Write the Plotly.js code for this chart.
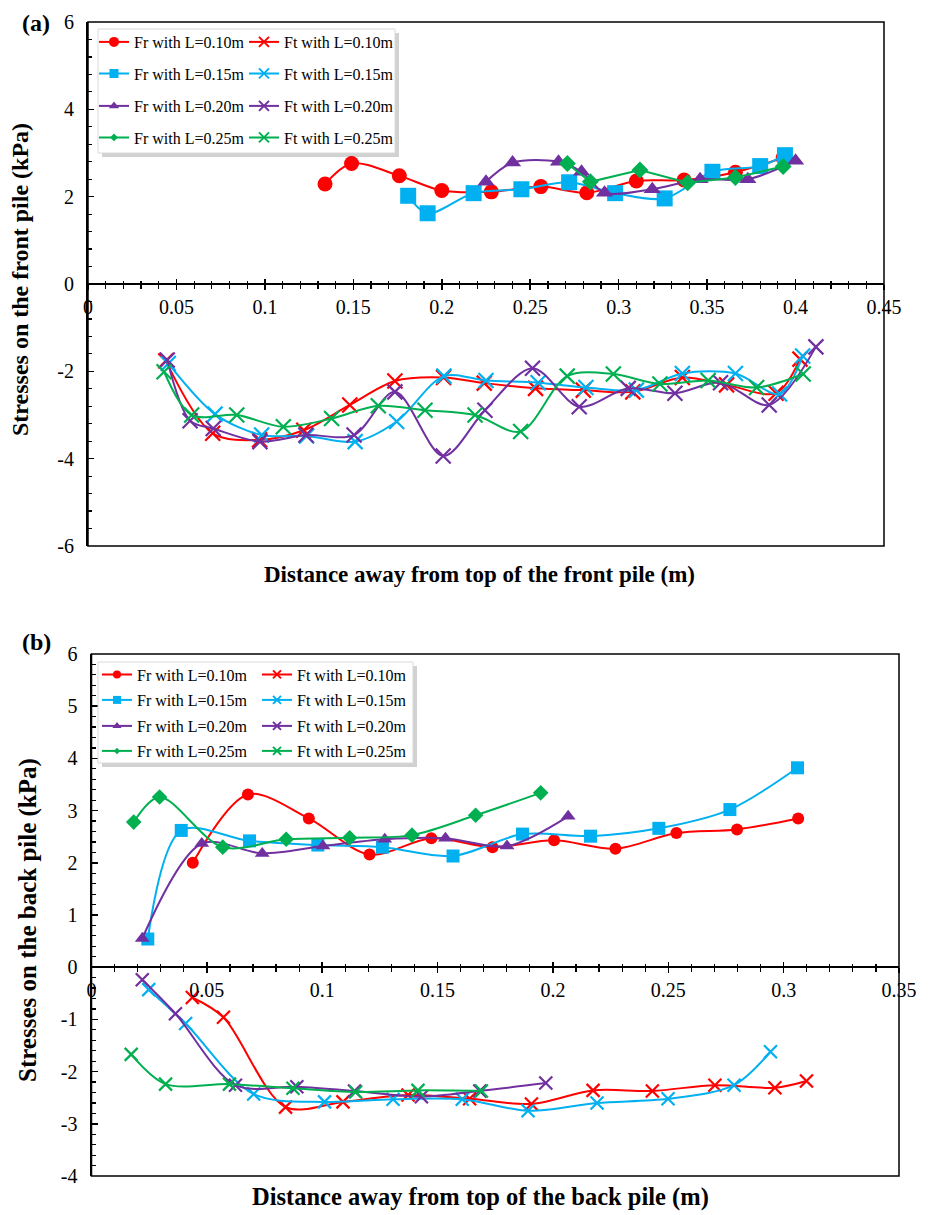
<!DOCTYPE html>
<html><head><meta charset="utf-8">
<script src="https://cdn.plot.ly/plotly-3.0.1.min.js"></script>
<style>html,body{margin:0;padding:0;background:#fff}#chart{width:932px;height:1215px}</style>
</head><body><div id="chart"></div>
<script>
// ---------- DATA ----------
const lengths = ['0.10m', '0.15m', '0.20m', '0.25m'];
const xTickValsA = [0, 0.05, 0.1, 0.15, 0.2, 0.25, 0.3, 0.35, 0.4, 0.45];
const xTickTextA = ['0', '0.05', '0.1', '0.15', '0.2', '0.25', '0.3', '0.35', '0.4', '0.45'];
const yTickValsA = [-6, -4, -2, 0, 2, 4, 6];
const yTickTextA = ['-6', '-4', '-2', '0', '2', '4', '6'];
const xTickValsB = [0, 0.05, 0.1, 0.15, 0.2, 0.25, 0.3, 0.35];
const xTickTextB = ['0', '0.05', '0.1', '0.15', '0.2', '0.25', '0.3', '0.35'];
const yTickValsB = [-4, -3, -2, -1, 0, 1, 2, 3, 4, 5, 6];
const yTickTextB = ['-4', '-3', '-2', '-1', '0', '1', '2', '3', '4', '5', '6'];

// (a) front pile
const aFr10x = [0.134, 0.149, 0.176, 0.200, 0.228, 0.256, 0.282, 0.310, 0.337, 0.366, 0.393];
const aFr10y = [2.29, 2.76, 2.48, 2.14, 2.11, 2.23, 2.09, 2.36, 2.38, 2.56, 2.89];
const aFr15x = [0.181, 0.192, 0.218, 0.245, 0.272, 0.298, 0.326, 0.353, 0.380, 0.394];
const aFr15y = [2.02, 1.62, 2.08, 2.17, 2.33, 2.08, 1.96, 2.57, 2.70, 2.95];
const aFr20x = [0.225, 0.240, 0.266, 0.279, 0.292, 0.319, 0.346, 0.373, 0.400];
const aFr20y = [2.34, 2.78, 2.80, 2.57, 2.09, 2.17, 2.40, 2.40, 2.82];
const aFr25x = [0.271, 0.284, 0.312, 0.339, 0.366, 0.393];
const aFr25y = [2.76, 2.34, 2.61, 2.32, 2.44, 2.69];
const aFt10x = [0.044, 0.0705, 0.097, 0.122, 0.148, 0.1735, 0.201, 0.224, 0.253, 0.280, 0.308, 0.336, 0.361, 0.389, 0.4025];
const aFt10y = [-1.76, -3.42, -3.57, -3.35, -2.77, -2.22, -2.14, -2.27, -2.39, -2.43, -2.47, -2.14, -2.31, -2.50, -1.72];
const aFt15x = [0.0454, 0.0718, 0.0982, 0.1236, 0.151, 0.1745, 0.2012, 0.225, 0.2545, 0.2815, 0.310, 0.336, 0.366, 0.391, 0.404];
const aFt15y = [-1.82, -2.98, -3.46, -3.48, -3.61, -3.15, -2.11, -2.21, -2.26, -2.37, -2.43, -2.05, -2.05, -2.52, -1.65];
const aFt20x = [0.0448, 0.0577, 0.0708, 0.0972, 0.1232, 0.1504, 0.1735, 0.2008, 0.2244, 0.2513, 0.2777, 0.3054, 0.3318, 0.3576, 0.3851, 0.4115];
const aFt20y = [-1.74, -3.13, -3.31, -3.61, -3.46, -3.46, -2.47, -3.94, -2.89, -1.93, -2.81, -2.39, -2.50, -2.26, -2.77, -1.44];
const aFt25x = [0.043, 0.0586, 0.0841, 0.1104, 0.1377, 0.1641, 0.1905, 0.2188, 0.2446, 0.2709, 0.297, 0.3233, 0.3506, 0.378, 0.4043];
const aFt25y = [-2.01, -3.00, -3.00, -3.27, -3.08, -2.79, -2.89, -3.00, -3.38, -2.11, -2.06, -2.29, -2.21, -2.37, -2.06];

// (b) back pile
const bFr10x = [0.0439, 0.0678, 0.0942, 0.1205, 0.1473, 0.1738, 0.2005, 0.2271, 0.2535, 0.2798, 0.3063];
const bFr10y = [2.00, 3.31, 2.85, 2.16, 2.47, 2.30, 2.43, 2.27, 2.57, 2.64, 2.85];
const bFr15x = [0.0244, 0.0389, 0.0685, 0.0981, 0.1261, 0.1567, 0.1868, 0.2163, 0.2459, 0.2767, 0.306];
const bFr15y = [0.54, 2.62, 2.42, 2.34, 2.30, 2.13, 2.55, 2.51, 2.66, 3.02, 3.82];
const bFr20x = [0.022, 0.0478, 0.074, 0.1003, 0.1271, 0.1534, 0.1801, 0.2066];
const bFr20y = [0.55, 2.37, 2.18, 2.32, 2.45, 2.47, 2.32, 2.89];
const bFr25x = [0.0183, 0.0295, 0.0569, 0.0844, 0.1119, 0.1389, 0.1665, 0.1947];
const bFr25y = [2.78, 3.26, 2.30, 2.45, 2.48, 2.53, 2.91, 3.34];
const bFt10x = [0.0437, 0.0572, 0.0841, 0.109, 0.1372, 0.1639, 0.1907, 0.2174, 0.2431, 0.2702, 0.2962, 0.3099];
const bFt10y = [-0.58, -0.96, -2.68, -2.58, -2.45, -2.52, -2.62, -2.36, -2.37, -2.26, -2.31, -2.18];
const bFt15x = [0.0248, 0.0408, 0.0703, 0.101, 0.1307, 0.1607, 0.1892, 0.2191, 0.2499, 0.2785, 0.2943];
const bFt15y = [-0.43, -1.08, -2.43, -2.58, -2.53, -2.53, -2.75, -2.60, -2.52, -2.26, -1.62];
const bFt20x = [0.022, 0.0364, 0.0624, 0.089, 0.114, 0.143, 0.1683, 0.1969];
const bFt20y = [-0.24, -0.89, -2.26, -2.29, -2.37, -2.48, -2.37, -2.22];
const bFt25x = [0.0172, 0.0321, 0.0598, 0.0873, 0.1145, 0.1415, 0.169];
const bFt25y = [-1.67, -2.24, -2.24, -2.32, -2.39, -2.36, -2.37];

// ---------- STYLE ----------
const W = 932, H = 1215;
const pxX = v => v / W, pxY = v => 1 - v / H;
const FONT = '"Liberation Serif","Times New Roman",serif';
const colors = ['#FF0000', '#00B0F0', '#7030A0', '#00B050'];
const frSymbols = ['circle', 'square', 'triangle-up', 'diamond'];
const frSizeA = [15, 16, 15, 13], frSizeB = [12, 13, 13, 12];
const frLegSizeA = [10, 9, 9, 6], frLegSizeB = [8, 8, 8, 5];
const frShapeA = ['spline', 'spline', 'spline', 'linear'];

const dataA = {
  Fr: [[aFr10x, aFr10y], [aFr15x, aFr15y], [aFr20x, aFr20y], [aFr25x, aFr25y]],
  Ft: [[aFt10x, aFt10y], [aFt15x, aFt15y], [aFt20x, aFt20y], [aFt25x, aFt25y]]
};
const dataB = {
  Fr: [[bFr10x, bFr10y], [bFr15x, bFr15y], [bFr20x, bFr20y], [bFr25x, bFr25y]],
  Ft: [[bFt10x, bFt10y], [bFt15x, bFt15y], [bFt20x, bFt20y], [bFt25x, bFt25y]]
};

const traces = [];
function addPanel(d, xa, ya, frSize, ftSize, legSize, legOffset, shapes) {
  for (let i = 0; i < 4; i++) {
    traces.push({
      type: 'scatter', mode: 'lines+markers', x: d.Fr[i][0], y: d.Fr[i][1], xaxis: xa, yaxis: ya,
      line: {color: colors[i], width: 2, shape: shapes[i], smoothing: 0.9},
      marker: {symbol: frSymbols[i], size: frSize[i], color: colors[i]},
      showlegend: false, cliponaxis: false
    });
    traces.push({
      type: 'scatter', mode: 'lines+markers', x: d.Ft[i][0], y: d.Ft[i][1], xaxis: xa, yaxis: ya,
      line: {color: colors[i], width: 2, shape: 'spline', smoothing: 0.9},
      marker: {symbol: 'x-thin', size: ftSize, color: colors[i], line: {color: colors[i], width: 2.2}},
      showlegend: false, cliponaxis: false
    });
  }
  // legend entries (row-wise: Fr, Ft per length)
  for (let i = 0; i < 4; i++) {
    const lg = 'legend' + (legOffset + i === 1 ? '' : (legOffset + i));
    traces.push({
      type: 'scatter', mode: 'lines+markers', x: [null], y: [null], xaxis: xa, yaxis: ya,
      name: 'Fr with L=' + lengths[i], legend: lg,
      line: {color: colors[i], width: 2},
      marker: {symbol: frSymbols[i], size: legSize[i], color: colors[i]}
    });
    traces.push({
      type: 'scatter', mode: 'lines+markers', x: [null], y: [null], xaxis: xa, yaxis: ya,
      name: 'Ft with L=' + lengths[i], legend: lg,
      line: {color: colors[i], width: 2},
      marker: {symbol: 'x-thin', size: legSize[0], color: colors[i], line: {color: colors[i], width: 2}}
    });
  }
}
addPanel(dataA, 'x', 'y', frSizeA, 15, frLegSizeA, 1, frShapeA);
addPanel(dataB, 'x2', 'y2', frSizeB, 13, frLegSizeB, 5, ['spline', 'spline', 'spline', 'spline']);
// dummy traces so the crossing-tick overlay axes are drawn
traces.push({type: 'scatter', x: [null], y: [null], xaxis: 'x3', yaxis: 'y', showlegend: false, hoverinfo: 'skip'});
traces.push({type: 'scatter', x: [null], y: [null], xaxis: 'x4', yaxis: 'y2', showlegend: false, hoverinfo: 'skip'});

const xDomA = [pxX(88), pxX(884)], yDomA = [pxY(546), pxY(22)];
const xDomB = [pxX(91.5), pxX(899)], yDomB = [pxY(1176), pxY(654)];
const yRangeA = [-6, 6], yRangeB = [-4, 6];
const zeroA = yDomA[0] + (0 - yRangeA[0]) / (yRangeA[1] - yRangeA[0]) * (yDomA[1] - yDomA[0]);
const zeroB = yDomB[0] + (0 - yRangeB[0]) / (yRangeB[1] - yRangeB[0]) * (yDomB[1] - yDomB[0]);

const tickFont = {family: FONT, size: 20, color: '#000'};
function xAxis(dom, range, pos, vals, text) {
  return {domain: dom, range: range, anchor: 'free', position: pos, showline: true, linecolor: '#000', linewidth: 2,
    ticks: 'outside', ticklen: 5, tickwidth: 1.5, tickcolor: '#000', tickmode: 'array', tickvals: vals, ticktext: text,
    tickfont: tickFont, showgrid: false, zeroline: false, fixedrange: true,
    minor: {tickmode: 'linear', tick0: 0, dtick: 0.01, ticks: 'outside', ticklen: 3.5, tickwidth: 1.2, tickcolor: '#000', showgrid: false}};
}
function xOverlay(ov, range, pos) {
  return {overlaying: ov, range: range, anchor: 'free', position: pos, showline: false, showticklabels: false,
    ticks: 'inside', ticklen: 5, tickwidth: 1.5, tickcolor: '#000', tickmode: 'linear', tick0: 0, dtick: 0.05,
    showgrid: false, zeroline: false, fixedrange: true,
    minor: {tickmode: 'linear', tick0: 0, dtick: 0.01, ticks: 'inside', ticklen: 3.5, tickwidth: 1.2, tickcolor: '#000', showgrid: false}};
}
function yAxis(dom, range, anchor, vals, text, minorDtick) {
  return {domain: dom, range: range, anchor: anchor, showline: true, linecolor: '#000', linewidth: 2,
    ticks: 'inside', ticklen: 6, tickwidth: 1.5, tickcolor: '#000', tickmode: 'array', tickvals: vals, ticktext: text,
    tickfont: tickFont, ticklabelstandoff: 8, showgrid: false, zeroline: false, fixedrange: true,
    minor: {tickmode: 'linear', tick0: 0, dtick: minorDtick, ticks: 'inside', ticklen: 4, tickwidth: 1.2, tickcolor: '#000', showgrid: false}};
}

const legFont = {family: FONT, size: 16, color: '#000'};
function legend(xLeft, yCenter, ew) {
  return {orientation: 'h', x: pxX(xLeft), xanchor: 'left', y: pxY(yCenter), yanchor: 'middle',
    bgcolor: 'rgba(0,0,0,0)', borderwidth: 0, font: legFont, entrywidth: ew, entrywidthmode: 'pixels',
    itemclick: false, itemdoubleclick: false, traceorder: 'normal', tracegroupgap: 0};
}
const legRowsA = [42, 73.5, 106, 137.5];
const legRowsB = [674.5, 700, 726, 751];

function legendBox(x0, y0, x1, y1) {
  return [
    {type: 'rect', xref: 'paper', yref: 'paper', x0: pxX(x0 + 4), x1: pxX(x1 + 4), y0: pxY(y1 + 4), y1: pxY(y0 + 4),
      fillcolor: 'rgba(0,0,0,0.18)', line: {width: 0}, layer: 'above'},
    {type: 'rect', xref: 'paper', yref: 'paper', x0: pxX(x0), x1: pxX(x1), y0: pxY(y1), y1: pxY(y0),
      fillcolor: '#fff', line: {color: '#d9d9d9', width: 1}, layer: 'above'}
  ];
}

function ann(text, x, y, size, angle) {
  return {text: text, xref: 'paper', yref: 'paper', x: pxX(x), y: pxY(y), xanchor: 'center', yanchor: 'middle',
    showarrow: false, textangle: angle || 0, font: {family: FONT, size: size, color: '#000'}};
}

const layout = {
  width: W, height: H, margin: {l: 0, r: 0, t: 0, b: 0}, paper_bgcolor: '#fff', plot_bgcolor: '#fff',
  showlegend: true, font: {family: FONT, color: '#000'},
  xaxis: xAxis(xDomA, [0, 0.45], zeroA, xTickValsA, xTickTextA),
  yaxis: yAxis(yDomA, yRangeA, 'x', yTickValsA, yTickTextA, 0.4),
  xaxis3: xOverlay('x', [0, 0.45], zeroA),
  xaxis2: xAxis(xDomB, [0, 0.35], zeroB, xTickValsB, xTickTextB),
  yaxis2: yAxis(yDomB, yRangeB, 'x2', yTickValsB, yTickTextB, 0.2),
  xaxis4: xOverlay('x2', [0, 0.35], zeroB),
  legend: legend(94, legRowsA[0], 105), legend2: legend(94, legRowsA[1], 105),
  legend3: legend(94, legRowsA[2], 105), legend4: legend(94, legRowsA[3], 105),
  legend5: legend(97, legRowsB[0], 115), legend6: legend(97, legRowsB[1], 115),
  legend7: legend(97, legRowsB[2], 115), legend8: legend(97, legRowsB[3], 115),
  shapes: [
    {type: 'rect', xref: 'x domain', yref: 'y domain', x0: 0, x1: 1, y0: 0, y1: 1, line: {color: '#000', width: 1.5}},
    {type: 'rect', xref: 'x2 domain', yref: 'y2 domain', x0: 0, x1: 1, y0: 0, y1: 1, line: {color: '#000', width: 1.5}},
    ...legendBox(98, 29, 395, 153),
    ...legendBox(98, 662, 413, 763)
  ],
  annotations: [
    ann('<b>(a)</b>', 36, 23, 24),
    ann('<b>(b)</b>', 36, 642, 24),
    ann('<b>Distance away from top of the front pile (m)</b>', 479, 574, 23),
    ann('<b>Distance away from top of the back pile (m)</b>', 480, 1197, 24.5),
    ann('<b>Stresses on the front pile (kPa)</b>', 20, 280, 24, -90),
    ann('<b>Stresses on the back pile (kPa)</b>', 28, 920, 25, -90)
  ]
};

Plotly.newPlot('chart', traces, layout, {displayModeBar: false, staticPlot: true});
</script></body></html>
